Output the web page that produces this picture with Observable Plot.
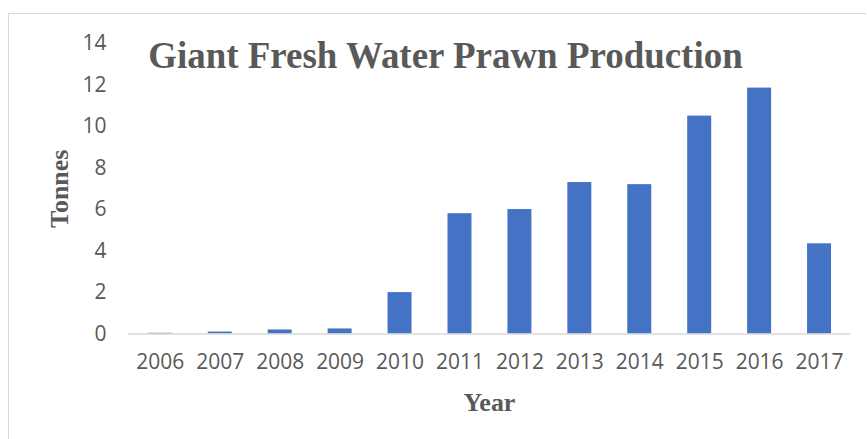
<!DOCTYPE html>
<html>
<head>
<meta charset="utf-8">
<script src="https://cdn.jsdelivr.net/npm/d3@7"></script>
<script src="https://cdn.jsdelivr.net/npm/@observablehq/plot@0.6"></script>
<style>
  html, body { margin: 0; padding: 0; background: #fff; overflow: hidden; }
  #frame {
    position: absolute; left: 8px; top: 13px;
    width: 857px; height: 440px;
    border: 1.5px solid #d9d9d9; border-right: none; border-bottom: none;
    background: #fff;
  }
</style>
</head>
<body>
<div id="frame"></div>
<script>
// Annual production of giant fresh water prawn, in tonnes
const years = ["2006", "2007", "2008", "2009", "2010", "2011", "2012", "2013", "2014", "2015", "2016", "2017"];
const tonnes = [0.04, 0.1, 0.2, 0.25, 2.0, 5.8, 6.0, 7.3, 7.2, 10.5, 11.85, 4.35];
const yTicks = [0, 2, 4, 6, 8, 10, 12, 14];

const titleText = "Giant Fresh Water Prawn Production";
const xTitle = "Year";
const yTitle = "Tonnes";

const rows = years.map((year, i) => ({year, value: tonnes[i]}));

const gray = "#595959";
const serif = "'Liberation Serif', 'Times New Roman', serif";

const chart = Plot.plot({
  width: 858,
  height: 426,
  marginLeft: 119,
  marginRight: 16,
  marginTop: 29,
  marginBottom: 106,
  style: {fontFamily: "'Open Sans', sans-serif", fontSize: "21px", color: gray, background: "transparent"},
  x: {domain: years, paddingInner: 0.607, paddingOuter: 0.3035, label: null, tickSize: 0, tickPadding: 20},
  y: {domain: [0, 14], ticks: yTicks, label: null, tickSize: 0, tickPadding: 22},
  marks: [
    Plot.barY(rows, {x: "year", y: "value", fill: "#4472c4"}),
    Plot.ruleY([0], {stroke: "#d9d9d9", strokeWidth: 1.5}),
    Plot.text([titleText], {
      frameAnchor: "top", dx: -44, dy: 13, lineAnchor: "middle",
      fontFamily: serif, fontWeight: "bold", fontSize: 37, fill: gray
    }),
    Plot.text([xTitle], {
      frameAnchor: "bottom", dy: 69, lineAnchor: "middle",
      fontFamily: serif, fontWeight: "bold", fontSize: 26, fill: gray
    }),
    Plot.text([yTitle], {
      frameAnchor: "left", dx: -69, rotate: -90, textAnchor: "middle", lineAnchor: "middle",
      fontFamily: serif, fontWeight: "bold", fontSize: 26, fill: gray
    })
  ]
});

document.getElementById("frame").appendChild(chart);
</script>
</body>
</html>
